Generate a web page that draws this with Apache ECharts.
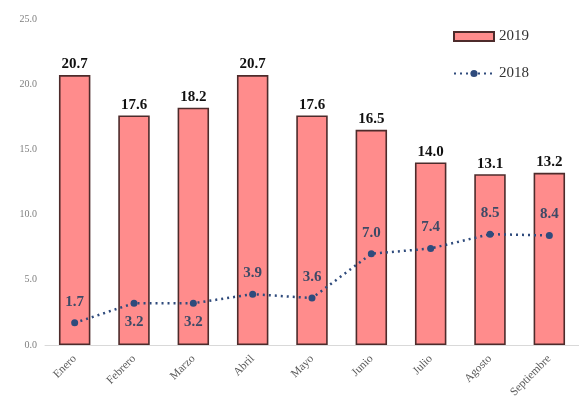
<!DOCTYPE html>
<html>
<head>
<meta charset="utf-8">
<script src="https://cdn.jsdelivr.net/npm/echarts@6/dist/echarts.min.js"></script>
<style>
html, body { margin: 0; padding: 0; background: #fff; }
#main { width: 579px; height: 402px; }
</style>
</head>
<body>
<div id="main"></div>
<script>
// datos
var meses = ['Enero', 'Febrero', 'Marzo', 'Abril', 'Mayo', 'Junio', 'Julio', 'Agosto', 'Septiembre'];
var datos2019 = [20.7, 17.6, 18.2, 20.7, 17.6, 16.5, 14.0, 13.1, 13.2];
var datos2018 = [1.7, 3.2, 3.2, 3.9, 3.6, 7.0, 7.4, 8.5, 8.4];
var etiquetasDebajo = ['Febrero', 'Marzo'];

var serif = '"Liberation Serif", "DejaVu Serif", serif';
var myChart = echarts.init(document.getElementById('main'));

var puntos2018 = datos2018.map(function (v, i) {
    var abajo = etiquetasDebajo.indexOf(meses[i]) >= 0;
    return { value: v, label: { position: abajo ? 'bottom' : 'top', distance: abajo ? 8 : 10 } };
});

var option = {
    backgroundColor: '#fff',
    animation: false,
    grid: { left: 45, right: -3, top: 19, bottom: 57 },
    legend: {
        orient: 'vertical',
        left: 448,
        top: 24,
        itemWidth: 40,
        itemHeight: 9,
        itemGap: 22,
        textStyle: { fontFamily: serif, fontSize: 15, color: '#333' },
        data: [{ name: '2019', icon: 'rect' }, { name: '2018' }]
    },
    xAxis: {
        type: 'category',
        data: meses,
        axisLine: { lineStyle: { color: '#d9d9d9', width: 1 } },
        axisTick: { show: false },
        axisLabel: { rotate: 45, fontFamily: serif, fontSize: 11.5, color: '#595959', margin: 12 }
    },
    yAxis: {
        type: 'value',
        min: 0,
        max: 25,
        interval: 5,
        axisLine: { show: false },
        axisTick: { show: false },
        splitLine: { show: false },
        axisLabel: {
            fontFamily: serif, fontSize: 10, color: '#7f7f7f', margin: 8,
            formatter: function (v) { return v.toFixed(1); }
        }
    },
    series: [{
        name: '2019',
        type: 'bar',
        data: datos2019,
        barWidth: '53%',
        itemStyle: { color: '#ff8c8c', borderColor: '#4d2b2b', borderWidth: 1.6 },
        label: {
            show: true, position: 'top', distance: 3,
            fontFamily: serif, fontSize: 15, fontWeight: 'bold', color: '#111',
            formatter: function (p) { return p.value.toFixed(1); }
        }
    }, {
        name: '2018',
        type: 'line',
        data: puntos2018,
        symbol: 'circle',
        symbolSize: 7,
        itemStyle: { color: '#2f4b7c' },
        lineStyle: { color: '#2f4b7c', width: 2.5, type: [2, 4] },
        label: {
            show: true,
            fontFamily: serif, fontSize: 15, fontWeight: 'bold', color: '#3d4a66',
            formatter: function (p) { return p.value.toFixed(1); }
        }
    }]
};

myChart.setOption(option);
</script>
</body>
</html>
